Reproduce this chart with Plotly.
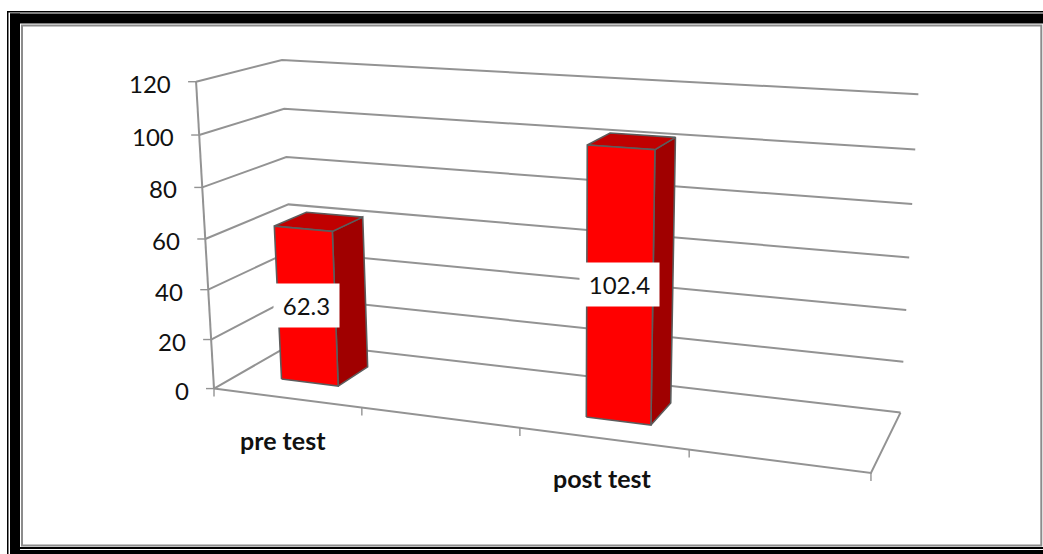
import numpy as np
import plotly.graph_objects as go

# Chart data
categories = ["pre test", "post test"]
values = [62.3, 102.4]
value_ticks = [0, 20, 40, 60, 80, 100, 120]
category_slots = [0, 2]        # each series occupies one of four floor slots
slot_count = 4

# Colours and type
FONT = "Lato"
GRID = "#939393"
EDGE = "#5c5c5c"
FRONT = "#ff0000"
TOP = "#c00000"
SIDE = "#a00000"

# Bar footprint inside a slot, expressed as fractions of the floor
BAR_WIDTH = 0.098
BAR_SHIFT = -0.002
DEPTH_NEAR = 0.30
DEPTH_FAR = 0.70

# Camera calibration: (along floor, value, depth) -> canvas pixel
calibration = [
    ((0, 0, 0), (213.3, 388.3)),
    ((0, 60, 0), (206.0, 238.7)),
    ((0, 120, 0), (196.0, 82.0)),
    ((1, 0, 0), (871.0, 473.3)),
    ((0, 0, 1), (295.0, 343.0)),
    ((0, 60, 1), (288.3, 204.0)),
    ((0, 120, 1), (281.7, 60.0)),
    ((1, 0, 1), (900.0, 412.0)),
    ((1, 60, 1), (910.0, 258.0)),
    ((1, 120, 1), (918.0, 94.0)),
]


def fit_camera(pairs):
    rows, rhs = [], []
    for (u, v, w), (x, y) in pairs:
        v = v / 120
        rows.append([u, v, w, 1, 0, 0, 0, 0, -x * u, -x * v, -x * w])
        rhs.append(x)
        rows.append([0, 0, 0, 0, u, v, w, 1, -y * u, -y * v, -y * w])
        rhs.append(y)
    p = np.linalg.lstsq(np.array(rows, float), np.array(rhs, float), rcond=None)[0]
    return np.append(p, 1.0).reshape(3, 4)


CAMERA = fit_camera(calibration)


def project(u, v, w):
    h = CAMERA @ np.array([u, v / 120, w, 1.0])
    return h[0] / h[2], h[1] / h[2]


def path(points):
    xy = [project(*p) for p in points]
    return [p[0] for p in xy], [p[1] for p in xy]


fig = go.Figure()


def add_line(points, color=GRID, width=2):
    x, y = path(points)
    fig.add_trace(go.Scatter(x=x, y=y, mode="lines", hoverinfo="skip",
                             line=dict(color=color, width=width), showlegend=False))


def add_face(points, fill):
    x, y = path(points + points[:1])
    fig.add_trace(go.Scatter(x=x, y=y, mode="lines", fill="toself", fillcolor=fill,
                             hoverinfo="skip", showlegend=False,
                             line=dict(color=EDGE, width=1.6)))


# Side wall and back wall gridlines
for tick in value_ticks:
    add_line([(0, tick, 0), (0, tick, 1), (1, tick, 1)])

# Value axis with its tick marks
add_line([(0, 0, 0), (0, 120, 0)])
for tick in value_ticks:
    x0, y0 = project(0, tick, 0)
    fig.add_trace(go.Scatter(x=[x0 - 8, x0], y=[y0, y0], mode="lines", hoverinfo="skip",
                             line=dict(color=GRID, width=1.4), showlegend=False))

# Floor outline and category ticks
add_line([(0, 0, 0), (1, 0, 0), (1, 0, 1)])
for i in range(slot_count + 1):
    x0, y0 = project(i / slot_count, 0, 0)
    fig.add_trace(go.Scatter(x=[x0, x0], y=[y0, y0 + 8], mode="lines", hoverinfo="skip",
                             line=dict(color=GRID, width=1.4), showlegend=False))

# Bars, far faces first
for slot, value in zip(category_slots, values):
    mid = (slot + 0.5) / slot_count + BAR_SHIFT
    u0, u1 = mid - BAR_WIDTH / 2, mid + BAR_WIDTH / 2
    add_face([(u1, 0, DEPTH_NEAR), (u1, 0, DEPTH_FAR), (u1, value, DEPTH_FAR), (u1, value, DEPTH_NEAR)], SIDE)
    add_face([(u0, value, DEPTH_NEAR), (u1, value, DEPTH_NEAR), (u1, value, DEPTH_FAR), (u0, value, DEPTH_FAR)], TOP)
    add_face([(u0, 0, DEPTH_NEAR), (u1, 0, DEPTH_NEAR), (u1, value, DEPTH_NEAR), (u0, value, DEPTH_NEAR)], FRONT)

annotations = []

# Value axis labels
for tick in value_ticks:
    x0, y0 = project(0, tick, 0)
    annotations.append(dict(x=x0 - 23, y=y0 + 1.5, text=str(tick), showarrow=False,
                            xanchor="right", yanchor="middle",
                            font=dict(family=FONT, size=24, color="#111111")))

# Category labels below the floor edge
label_drop = [42, 39]
label_nudge = [-3.5, -1]
for slot, name, drop, nudge in zip(category_slots, categories, label_drop, label_nudge):
    x0, y0 = project((slot + 0.5) / slot_count, 0, 0)
    annotations.append(dict(x=x0 + nudge, y=y0 + drop, text=f"<b>{name}</b>", showarrow=False,
                            xanchor="center", yanchor="middle",
                            font=dict(family=FONT, size=25, color="#111111")))

# Value labels on white plates at mid-height of each bar
plate_widths = [63, 77]
plate_lift = [1, 3]
for slot, value, plate, lift in zip(category_slots, values, plate_widths, plate_lift):
    x0, y0 = project((slot + 0.5) / slot_count + BAR_SHIFT, value / 2, DEPTH_NEAR)
    annotations.append(dict(x=x0, y=y0 - lift, text=f"{value}", showarrow=False,
                            xanchor="center", yanchor="middle", bgcolor="#ffffff",
                            width=plate, height=41, align="center", valign="middle",
                            font=dict(family=FONT, size=24, color="#111111")))


def band(x0, y0, x1, y1, color="#000000"):
    return dict(type="rect", xref="x", yref="y", x0=x0, y0=y0, x1=x1, y1=y1,
                fillcolor=color, line=dict(width=0), layer="above")


# Page frame: double black rule with a thin grey inner rule
shapes = [
    band(7, 11, 1043, 12.5),
    band(10, 13.5, 1043, 23.5),
    band(7, 11, 8.5, 554),
    band(10, 13.5, 20, 554),
    band(10, 547, 1043, 549),
    band(20, 550, 1043, 554),
    dict(type="rect", xref="x", yref="y", x0=22, y0=25.5, x1=1041.3, y1=545.5,
         fillcolor="rgba(0,0,0,0)", line=dict(color="#8c8c8c", width=2), layer="above"),
]

fig.update_layout(
    width=1043, height=554,
    margin=dict(l=0, r=0, t=0, b=0),
    paper_bgcolor="#ffffff", plot_bgcolor="#ffffff",
    xaxis=dict(visible=False, range=[0, 1043], fixedrange=True),
    yaxis=dict(visible=False, range=[554, 0], fixedrange=True),
    showlegend=False,
    shapes=shapes,
    annotations=annotations,
)

fig.write_html("out.html", config=dict(displayModeBar=False))
